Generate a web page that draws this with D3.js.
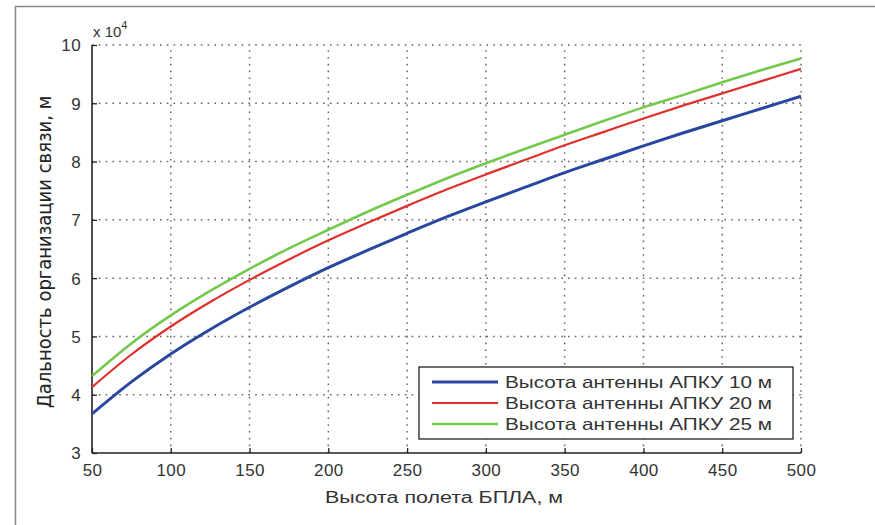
<!DOCTYPE html>
<html>
<head>
<meta charset="utf-8">
<script src="https://cdn.jsdelivr.net/npm/d3@7"></script>
<style>
  body { margin: 0; background: #fff; }
  svg { font-family: "Liberation Sans", Arial, sans-serif; }
</style>
</head>
<body>
<div id="chart-area"></div>
<script>

// SVG Size
var width = 875,
		height = 525;

// Data (heights in m, range in units of 10^4 m)
var heights = [50, 75, 100, 125, 150, 175, 200, 225, 250, 275, 300, 325, 350, 375, 400, 425, 450, 475, 500];
var range10 = [3.67, 4.22, 4.70, 5.12, 5.50, 5.85, 6.18, 6.48, 6.77, 7.05, 7.31, 7.56, 7.81, 8.04, 8.27, 8.49, 8.70, 8.91, 9.12];
var range20 = [4.13, 4.69, 5.17, 5.59, 5.97, 6.32, 6.65, 6.95, 7.24, 7.52, 7.78, 8.03, 8.28, 8.51, 8.74, 8.96, 9.17, 9.38, 9.59];
var range25 = [4.32, 4.88, 5.36, 5.78, 6.16, 6.51, 6.83, 7.14, 7.43, 7.71, 7.97, 8.22, 8.46, 8.70, 8.93, 9.14, 9.36, 9.57, 9.77];
var seriesNames = ["Высота антенны АПКУ 10 м", "Высота антенны АПКУ 20 м", "Высота антенны АПКУ 25 м"];
var xTicks = [50, 100, 150, 200, 250, 300, 350, 400, 450, 500];
var yTicks = [3, 4, 5, 6, 7, 8, 9, 10];

var series = [
	{ name: seriesNames[0], values: range10, color: "#2a47a0", w: 3 },
	{ name: seriesNames[1], values: range20, color: "#e0302c", w: 2.2 },
	{ name: seriesNames[2], values: range25, color: "#74c84c", w: 2.6 }
];

var svg = d3.select("#chart-area").append("svg")
		.attr("width", width)
		.attr("height", height);

// Outer frame
svg.append("rect")
	.attr("x", 15.5).attr("y", 6.5)
	.attr("width", 900).attr("height", 600)
	.attr("fill", "none")
	.attr("stroke", "#888")
	.attr("stroke-width", 1.5);

var plotLeft = 92, plotRight = 801, plotTop = 45, plotBottom = 453;

var x = d3.scaleLinear().domain([50, 500]).range([plotLeft, plotRight]);
var y = d3.scaleLinear().domain([3, 10]).range([plotBottom, plotTop]);

// Grid
var grid = svg.append("g")
	.attr("stroke", "#666")
	.attr("stroke-width", 1.5)
	.attr("stroke-dasharray", "1.6,5.2");

grid.selectAll(".gx")
	.data(xTicks.filter(function(d){ return d > 50; }))
	.enter().append("line")
	.attr("x1", function(d){ return x(d); })
	.attr("x2", function(d){ return x(d); })
	.attr("y1", plotBottom).attr("y2", plotTop);

grid.selectAll(".gy")
	.data(yTicks.filter(function(d){ return d > 3; }))
	.enter().append("line")
	.attr("x1", plotLeft).attr("x2", plotRight)
	.attr("y1", function(d){ return y(d); })
	.attr("y2", function(d){ return y(d); });

// Axes
var xAxis = d3.axisBottom(x).tickValues(xTicks).tickSize(-5).tickPadding(11).tickFormat(d3.format("d"));
var yAxis = d3.axisLeft(y).tickValues(yTicks).tickSize(-5).tickPadding(11).tickFormat(d3.format("d"));

var gx = svg.append("g").attr("transform", "translate(0," + plotBottom + ")").call(xAxis);
var gy = svg.append("g").attr("transform", "translate(" + plotLeft + ",0)").call(yAxis);

[gx, gy].forEach(function(g){
	g.select(".domain").attr("stroke", "#222").attr("stroke-width", 1.6);
	g.selectAll(".tick line").attr("stroke", "#222").attr("stroke-width", 1.3);
	g.selectAll(".tick text").attr("fill", "#333").attr("font-size", 17).attr("letter-spacing", 0.4);
});
gx.select(".domain").attr("d", "M" + plotLeft + ",0H" + plotRight);
gy.select(".domain").attr("d", "M0," + plotBottom + "V" + plotTop);
gy.selectAll(".tick text").attr("dy", "0.35em");

// Exponent label
var expo = svg.append("text")
	.attr("x", 93).attr("y", 37)
	.attr("fill", "#333").attr("font-size", 15);
expo.append("tspan").text("x 10");
expo.append("tspan").attr("dy", -8).attr("font-size", 11).text("4");

// Lines
var line = d3.line()
	.x(function(d, i){ return x(heights[i]); })
	.y(function(d){ return y(d); })
	.curve(d3.curveMonotoneX);

svg.selectAll(".series")
	.data(series)
	.enter().append("path")
	.attr("d", function(d){ return line(d.values); })
	.attr("fill", "none")
	.attr("stroke", function(d){ return d.color; })
	.attr("stroke-width", function(d){ return d.w; });

// Legend
var legend = svg.append("g");
legend.append("rect")
	.attr("x", 419).attr("y", 367)
	.attr("width", 374).attr("height", 72)
	.attr("fill", "#fff")
	.attr("stroke", "#222")
	.attr("stroke-width", 1.3);

var items = legend.selectAll(".item")
	.data(series)
	.enter().append("g")
	.attr("transform", function(d, i){ return "translate(0," + (382 + i * 21) + ")"; });

items.append("line")
	.attr("x1", 432).attr("x2", 498)
	.attr("stroke", function(d){ return d.color; })
	.attr("stroke-width", function(d){ return d.w; });

items.append("text")
	.attr("x", 505).attr("dy", "0.36em")
	.attr("fill", "#333").attr("font-size", 16.5)
	.attr("textLength", 267).attr("lengthAdjust", "spacingAndGlyphs")
	.text(function(d){ return d.name; });

// Axis titles
svg.append("text")
	.attr("x", 325).attr("y", 503)
	.attr("fill", "#333").attr("font-size", 16)
	.attr("textLength", 238).attr("lengthAdjust", "spacingAndGlyphs")
	.text("Высота полета БПЛА, м");

svg.append("text")
	.attr("transform", "translate(51,252) rotate(-90)")
	.attr("text-anchor", "middle")
	.attr("fill", "#222").attr("font-size", 20)
	.attr("font-family", "'Liberation Sans Narrow', 'DejaVu Sans Condensed', sans-serif")
	.text("Дальность организации связи, м");

</script>
</body>
</html>
